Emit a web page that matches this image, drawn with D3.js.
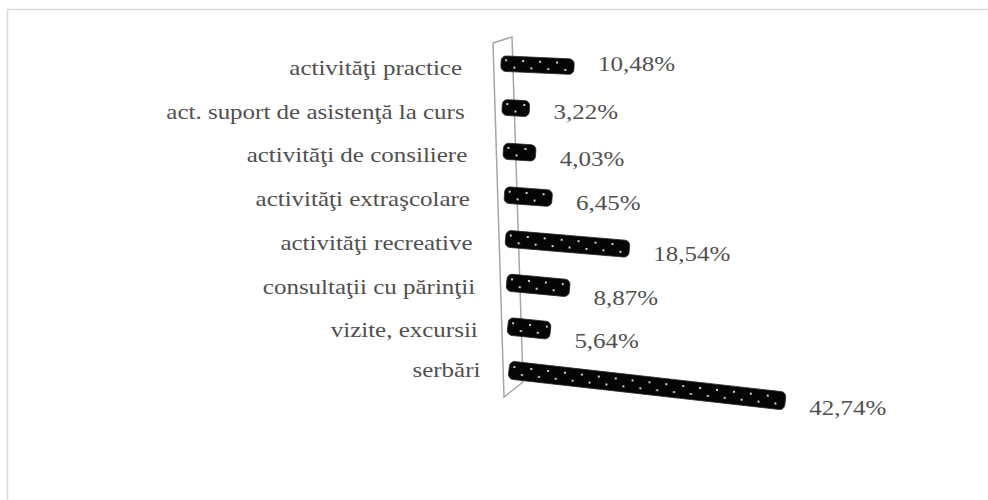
<!DOCTYPE html>
<html>
<head>
<meta charset="utf-8">
<script src="https://cdn.jsdelivr.net/npm/d3@7"></script>
<style>
  body { margin: 0; background: #fff; }
</style>
</head>
<body>
<svg id="chart" width="988" height="500"></svg>
<script>
let categories = [
    "activităţi practice",
    "act. suport de asistenţă la curs",
    "activităţi de consiliere",
    "activităţi extraşcolare",
    "activităţi recreative",
    "consultaţii cu părinţii",
    "vizite, excursii",
    "serbări"
];
let values = [10.48, 3.22, 4.03, 6.45, 18.54, 8.87, 5.64, 42.74];

let serif = "Liberation Serif";
let stretch = 1.19; // the source picture is a little wider than tall

let svg = d3.select("#chart");

// light frame round the chart area
svg.append("rect")
    .attr("x", 7.5).attr("y", 9.5)
    .attr("width", 990).attr("height", 500)
    .attr("fill", "none")
    .attr("stroke", "#d9d9d9")
    .attr("stroke-width", 1.5);

// dotted fill for the cylinders
let defs = svg.append("defs");
let pat = defs.append("pattern")
    .attr("id", "dots")
    .attr("patternUnits", "userSpaceOnUse")
    .attr("x", 0).attr("y", -7.5)
    .attr("width", 17).attr("height", 15);
pat.append("circle").attr("cx", 5).attr("cy", 4).attr("r", 1.1).attr("fill", "#fff");
pat.append("circle").attr("cx", 13.5).attr("cy", 11).attr("r", 1.1).attr("fill", "#fff");

let yScale = d3.scalePoint().domain(categories).range([63.5, 370]);
let xScale = d3.scaleLinear().domain([0, 45]).range([0, 283.5]);

// fake perspective: the wall leans right and the bars slope more further down
let wallX = y => 501 + 0.026 * (y - 63);
let slope = y => 0.045 + 0.00022 * (y - 63);
let capW = 7;

// back wall
svg.append("path")
    .attr("d", "M493,43 L512,37 L523,382 L504,397 Z")
    .attr("fill", "none")
    .attr("stroke", "#a6a6a6")
    .attr("stroke-width", 1.5);

// category labels
svg.selectAll(".cat")
    .data(categories)
    .enter().append("text")
    .attr("class", "cat")
    .attr("transform", (d, i) => {
        let x = 462 + 0.06 * (yScale(d) - 63);
        let y = yScale(d) + (i == categories.length - 1 ? 0 : 4);
        return "translate(" + x + "," + y + ") scale(" + stretch + ",1)";
    })
    .attr("text-anchor", "end")
    .attr("dominant-baseline", "central")
    .attr("font-family", serif)
    .attr("font-size", 21)
    .attr("fill", "#505050")
    .text(d => d);

let rows = categories.map((c, i) => ({ cat: c, value: values[i] }));

let bars = svg.selectAll(".bar")
    .data(rows)
    .enter().append("g")
    .attr("class", "bar")
    .attr("transform", d => {
        let y = yScale(d.cat);
        let ang = Math.atan(slope(y)) * 180 / Math.PI;
        return "translate(" + wallX(y) + "," + y + ") rotate(" + ang + ")";
    });

function barLen(d) {
    let y = yScale(d.cat);
    return (capW + xScale(d.value)) / Math.cos(Math.atan(slope(y)));
}
function barH(d) {
    return 15.5 + 2.5 * (yScale(d.cat) - 63) / 307;
}

bars.append("rect")
    .attr("x", 0)
    .attr("y", d => -barH(d) / 2)
    .attr("width", barLen)
    .attr("height", barH)
    .attr("rx", 5)
    .attr("fill", "#050505")
    .attr("stroke", "#2a2a2a")
    .attr("stroke-width", 0.8);

bars.append("rect")
    .attr("x", 3)
    .attr("y", d => -barH(d) / 2 + 1)
    .attr("width", d => barLen(d) - 6)
    .attr("height", d => barH(d) - 2)
    .attr("fill", "url(#dots)");

// value labels at the end of each cylinder
let fmt = d3.format(".2f");
let labelDy = [-6, 0, 2, 0, 0, 4, 4, 0];
svg.selectAll(".val")
    .data(rows)
    .enter().append("text")
    .attr("class", "val")
    .attr("transform", (d, i) => {
        let y = yScale(d.cat);
        let x = wallX(y) + capW + xScale(d.value) + 24;
        let ty = y + slope(y) * (capW + xScale(d.value) + 60) + labelDy[i];
        return "translate(" + x + "," + ty + ") scale(" + stretch + ",1)";
    })
    .attr("dominant-baseline", "central")
    .attr("font-family", serif)
    .attr("font-size", 21)
    .attr("fill", "#505050")
    .text(d => fmt(d.value).replace(".", ",") + "%");
</script>
</body>
</html>
